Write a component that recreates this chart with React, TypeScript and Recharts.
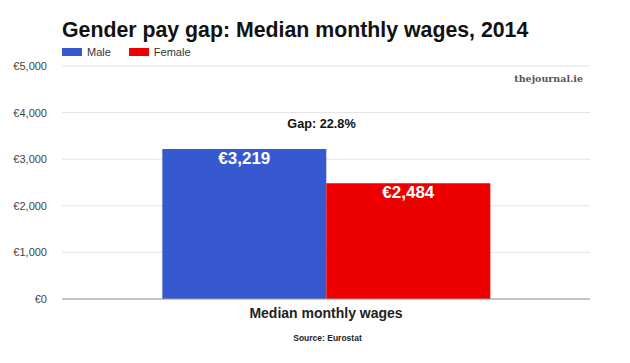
import React from "react";
import { BarChart, Bar, XAxis, YAxis, CartesianGrid, LabelList } from "recharts";

const categories = ["Median monthly wages"];
const maleWages = [3219];
const femaleWages = [2484];
const yTicks = [0, 1000, 2000, 3000, 4000, 5000];
const gapLabel = "Gap: 22.8%";

const data = categories.map((name, i) => ({
  name,
  male: maleWages[i],
  female: femaleWages[i],
}));

const FONT = "'Liberation Sans', Arial, Helvetica, sans-serif";
const euro = (v: number) => "€" + v.toLocaleString("en-US");

export default function App() {
  return (
    <div
      style={{
        position: "absolute",
        top: 0,
        left: 0,
        width: 630,
        height: 363,
        background: "#fff",
        fontFamily: FONT,
      }}
    >
      <div
        style={{
          position: "absolute",
          left: 62,
          top: 18,
          fontSize: 21.3,
          fontWeight: "bold",
          color: "#111",
          whiteSpace: "nowrap",
        }}
      >
        Gender pay gap: Median monthly wages, 2014
      </div>
      <div style={{ position: "absolute", left: 62, top: 46, fontSize: 11, color: "#333", display: "flex", alignItems: "center" }}>
        <span style={{ display: "inline-block", width: 20, height: 8, background: "#3759cf", marginRight: 5 }} />
        <span style={{ marginRight: 18 }}>Male</span>
        <span style={{ display: "inline-block", width: 20, height: 8, background: "#ee0000", marginRight: 5 }} />
        <span>Female</span>
      </div>
      <div
        style={{
          position: "absolute",
          right: 47,
          top: 73,
          fontSize: 9.5,
          fontWeight: "bold",
          color: "#555",
          fontFamily: "'DejaVu Serif', 'Liberation Serif', serif",
        }}
      >
        thejournal.ie
      </div>
      <div
        style={{
          position: "absolute",
          left: 0,
          width: 643,
          top: 117,
          textAlign: "center",
          fontSize: 12.7,
          fontWeight: "bold",
          color: "#111",
        }}
      >
        {gapLabel}
      </div>
      <div
        style={{
          position: "absolute",
          left: 0,
          width: 655,
          top: 333,
          textAlign: "center",
          fontSize: 8.5,
          fontWeight: "bold",
          color: "#222",
        }}
      >
        Source: Eurostat
      </div>
      <BarChart
        width={630}
        height={363}
        data={data}
        margin={{ top: 66, right: 40, bottom: 0, left: 0 }}
        barCategoryGap="19%"
        barGap={0}
      >
        <CartesianGrid vertical={false} stroke="#e3e3e3" />
        <YAxis
          width={62}
          domain={[0, 5000]}
          ticks={yTicks}
          tickFormatter={euro}
          axisLine={false}
          tickLine={false}
          tickMargin={9}
          tick={{ fontSize: 11, fill: "#444", fontFamily: FONT }}
        />
        <XAxis
          dataKey="name"
          height={64}
          axisLine={{ stroke: "#999" }}
          tickLine={false}
          tickMargin={3}
          tick={{ fontSize: 14, fontWeight: "bold", fill: "#222", fontFamily: FONT }}
        />
        <Bar dataKey="male" fill="#3759cf" isAnimationActive={false}>
          <LabelList
            dataKey="male"
            position="insideTop"
            offset={3}
            formatter={(v: any) => euro(Number(v))}
            style={{ fill: "#fff", fontSize: 17, fontWeight: "bold", fontFamily: FONT }}
          />
        </Bar>
        <Bar dataKey="female" fill="#ee0000" isAnimationActive={false}>
          <LabelList
            dataKey="female"
            position="insideTop"
            offset={3}
            formatter={(v: any) => euro(Number(v))}
            style={{ fill: "#fff", fontSize: 17, fontWeight: "bold", fontFamily: FONT }}
          />
        </Bar>
      </BarChart>
    </div>
  );
}
